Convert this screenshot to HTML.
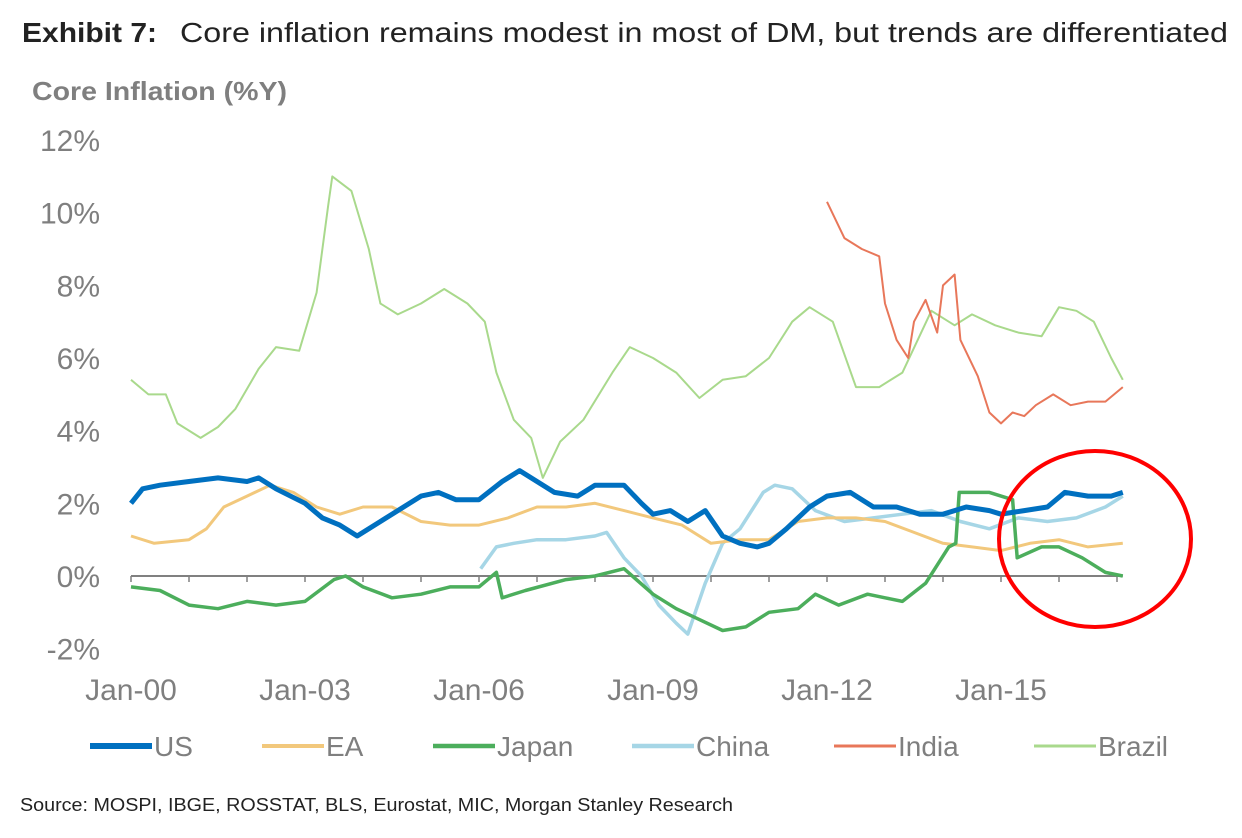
<!DOCTYPE html>
<html><head><meta charset="utf-8"><style>
body{margin:0;background:#fff;font-family:"Liberation Sans",Arial,sans-serif;}
</style></head><body>
<svg width="1242" height="833" xmlns="http://www.w3.org/2000/svg" id="chart">
<text x="22" y="42" font-size="28" font-weight="bold" fill="#222" textLength="135" lengthAdjust="spacingAndGlyphs">Exhibit 7:</text>
<text x="180" y="42" font-size="28" fill="#222" textLength="1048" lengthAdjust="spacingAndGlyphs">Core inflation remains modest in most of DM, but trends are differentiated</text>
<text x="32" y="100" font-size="26" font-weight="bold" fill="#7f7f7f" textLength="255" lengthAdjust="spacingAndGlyphs">Core Inflation (%Y)</text>
<g id="yticks"></g><g id="xticks"></g><g id="series"></g>
<ellipse cx="1095" cy="539" rx="96" ry="88" fill="none" stroke="#ff0000" stroke-width="4"/>
<g id="legend"></g>
<text x="20" y="811" font-size="18" fill="#222" textLength="713" lengthAdjust="spacingAndGlyphs">Source: MOSPI, IBGE, ROSSTAT, BLS, Eurostat, MIC, Morgan Stanley Research</text>
</svg>
<script>
const yTicks=[-2,0,2,4,6,8,10,12];
const xTickYears=[2000,2003,2006,2009,2012,2015];
const xTickLabels=["Jan-00","Jan-03","Jan-06","Jan-09","Jan-12","Jan-15"];
const seriesNames=["Brazil","India","China","EA","Japan","US"];
const usT=[2000,2000.2,2000.5,2001,2001.5,2002,2002.2,2002.5,2003,2003.3,2003.6,2003.9,2004.3,2004.6,2005,2005.3,2005.6,2006,2006.4,2006.7,2007,2007.3,2007.7,2008,2008.5,2008.8,2009,2009.3,2009.6,2009.9,2010.2,2010.5,2010.8,2011,2011.3,2011.7,2012,2012.4,2012.8,2013.2,2013.6,2014,2014.4,2014.8,2015,2015.4,2015.8,2016.1,2016.5,2016.9,2017.1];
const usV=[2.0,2.4,2.5,2.6,2.7,2.6,2.7,2.4,2.0,1.6,1.4,1.1,1.5,1.8,2.2,2.3,2.1,2.1,2.6,2.9,2.6,2.3,2.2,2.5,2.5,2.0,1.7,1.8,1.5,1.8,1.1,0.9,0.8,0.9,1.3,1.9,2.2,2.3,1.9,1.9,1.7,1.7,1.9,1.8,1.7,1.8,1.9,2.3,2.2,2.2,2.3];
const eaT=[2000,2000.4,2001,2001.3,2001.6,2002,2002.4,2002.8,2003.2,2003.6,2004,2004.5,2005,2005.5,2006,2006.5,2007,2007.5,2008,2008.5,2009,2009.5,2010,2010.5,2011,2011.5,2012,2012.5,2013,2013.5,2014,2014.5,2015,2015.5,2016,2016.5,2017.1];
const eaV=[1.1,0.9,1.0,1.3,1.9,2.2,2.5,2.3,1.9,1.7,1.9,1.9,1.5,1.4,1.4,1.6,1.9,1.9,2.0,1.8,1.6,1.4,0.9,1.0,1.0,1.5,1.6,1.6,1.5,1.2,0.9,0.8,0.7,0.9,1.0,0.8,0.9];
const jpT=[2000,2000.5,2001,2001.5,2002,2002.5,2003,2003.5,2003.7,2004,2004.5,2005,2005.5,2006,2006.3,2006.4,2006.8,2007.5,2008,2008.5,2009,2009.4,2009.8,2010.2,2010.6,2011,2011.5,2011.8,2012.2,2012.7,2013,2013.3,2013.7,2014.1,2014.22,2014.28,2014.8,2015.2,2015.28,2015.7,2016,2016.4,2016.8,2017.1];
const jpV=[-0.3,-0.4,-0.8,-0.9,-0.7,-0.8,-0.7,-0.1,0.0,-0.3,-0.6,-0.5,-0.3,-0.3,0.1,-0.6,-0.4,-0.1,0.0,0.2,-0.5,-0.9,-1.2,-1.5,-1.4,-1.0,-0.9,-0.5,-0.8,-0.5,-0.6,-0.7,-0.2,0.8,0.9,2.3,2.3,2.1,0.5,0.8,0.8,0.5,0.1,0.0];
const cnT=[2006.03,2006.3,2006.6,2007,2007.5,2008,2008.2,2008.5,2008.8,2009.1,2009.4,2009.6,2009.9,2010.2,2010.5,2010.9,2011.1,2011.4,2011.8,2012.3,2012.8,2013.3,2013.8,2014.3,2014.8,2015.3,2015.8,2016.3,2016.8,2017.1];
const cnV=[0.2,0.8,0.9,1.0,1.0,1.1,1.2,0.5,0.0,-0.8,-1.3,-1.6,-0.2,0.9,1.3,2.3,2.5,2.4,1.8,1.5,1.6,1.7,1.8,1.5,1.3,1.6,1.5,1.6,1.9,2.2];
const inT=[2012,2012.3,2012.6,2012.9,2013,2013.2,2013.4,2013.5,2013.7,2013.9,2014,2014.2,2014.3,2014.6,2014.8,2015,2015.2,2015.4,2015.6,2015.9,2016.2,2016.5,2016.8,2017.1];
const inV=[10.3,9.3,9.0,8.8,7.5,6.5,6.0,7.0,7.6,6.7,8.0,8.3,6.5,5.5,4.5,4.2,4.5,4.4,4.7,5.0,4.7,4.8,4.8,5.2];
const brT=[2000,2000.3,2000.6,2000.8,2001.2,2001.5,2001.8,2002.2,2002.5,2002.9,2003.2,2003.4,2003.47,2003.8,2004.1,2004.3,2004.6,2005,2005.4,2005.8,2006.1,2006.3,2006.6,2006.9,2007.1,2007.4,2007.8,2008.3,2008.6,2009.0,2009.4,2009.8,2010.2,2010.6,2011.0,2011.4,2011.7,2012.1,2012.5,2012.9,2013.3,2013.8,2014.2,2014.5,2014.9,2015.3,2015.7,2016,2016.3,2016.6,2016.9,2017.1];
const brV=[5.4,5.0,5.0,4.2,3.8,4.1,4.6,5.7,6.3,6.2,7.8,10.2,11.0,10.6,9.0,7.5,7.2,7.5,7.9,7.5,7.0,5.6,4.3,3.8,2.7,3.7,4.3,5.6,6.3,6.0,5.6,4.9,5.4,5.5,6.0,7.0,7.4,7.0,5.2,5.2,5.6,7.3,6.9,7.2,6.9,6.7,6.6,7.4,7.3,7.0,6.0,5.4];
const NS="http://www.w3.org/2000/svg";
const xS=t=>131+(t-2000)*58;
const yS=v=>576-v*36.33;
function mk(tag,attrs,parent,txt){const e=document.createElementNS(NS,tag);for(const k in attrs)e.setAttribute(k,attrs[k]);if(txt!==undefined)e.textContent=txt;parent.appendChild(e);return e;}
const yg=document.getElementById('yticks');
yTicks.forEach(v=>{const t=mk('text',{x:100,y:yS(v)+11,'font-size':30,fill:'#7f7f7f','text-anchor':'end'},yg,v+'%');

});
const xg=document.getElementById('xticks');
const ax=mk('line',{x1:xS(2000),x2:xS(2017.1),y1:yS(0),y2:yS(0),stroke:'#808080','stroke-width':2},xg);


for(let y=2000;y<=2017;y++){const tk=mk('line',{x1:xS(y),x2:xS(y),y1:yS(0),y2:yS(0)+6,stroke:'#808080','stroke-width':1.5},xg);

}
xTickYears.forEach((y,i)=>{const t=mk('text',{x:xS(y),y:700,'font-size':30,fill:'#7f7f7f','text-anchor':'middle'},xg,xTickLabels[i]);

});
const sd={US:[usT,usV,'#0070c0',5],EA:[eaT,eaV,'#f2c87c',3],Japan:[jpT,jpV,'#4cae5c',3.5],China:[cnT,cnV,'#a6d6e6',3.5],India:[inT,inV,'#e8775a',2],Brazil:[brT,brV,'#a9d98c',2]};
const sg=document.getElementById('series');
seriesNames.forEach(n=>{const [T,V,c,w]=sd[n];const d=T.map((t,i)=>(i?'L':'M')+xS(t).toFixed(1)+','+yS(V[i]).toFixed(1)).join('');
const p=mk('path',{d:d,fill:'none',stroke:c,'stroke-width':w,'stroke-linejoin':'round'},sg);

});
const lg=document.getElementById('legend');
const legOrder=["US","EA","Japan","China","India","Brazil"];
const legX=[90,262,433,632,834,1034];
legOrder.forEach((n,i)=>{const g=mk('g',{},lg);


mk('line',{x1:legX[i],x2:legX[i]+62,y1:746,y2:746,stroke:sd[n][2],'stroke-width':sd[n][3]+1},g);
mk('text',{x:legX[i]+64,y:756,'font-size':28,fill:'#7f7f7f'},g,n);});
</script>
</body></html>
